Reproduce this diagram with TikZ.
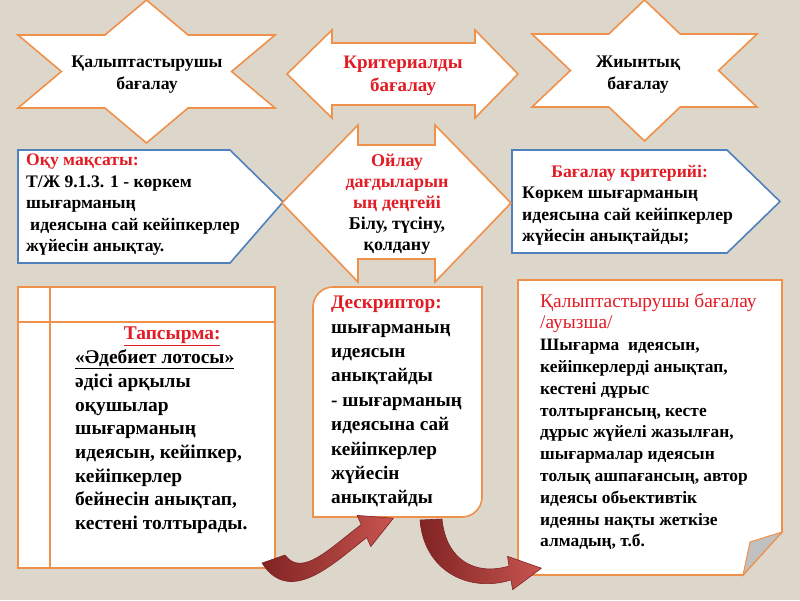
\documentclass[tikz,border=0pt]{standalone}
\usepackage{fontspec}
\setmainfont{Liberation Serif}
\usetikzlibrary{calc}
\definecolor{bgbeige}{RGB}{221,214,203}
\definecolor{boxorange}{RGB}{240,145,75}
\definecolor{boxblue}{RGB}{79,129,189}
\definecolor{txtred}{RGB}{226,28,36}
\definecolor{arrdark}{RGB}{128,36,36}
\definecolor{arrlight}{RGB}{200,84,78}
\definecolor{foldgrey}{RGB}{192,192,192}

\begin{document}
\begin{tikzpicture}[x=1pt, y=-1pt,
	orangebox/.style={fill=white, draw=boxorange, line width=1.6pt, line join=miter},
	bluebox/.style={fill=white, draw=boxblue, line width=1.6pt, line join=miter},
	orangeline/.style={draw=boxorange, line width=1.6pt},
	curvearrow/.style={left color=arrdark, right color=arrlight, draw=arrdark, line width=0.6pt, line join=round},
	txt/.style={inner sep=0pt, align=left, anchor=north west}]
	\fill[bgbeige] (0,0) rectangle (800,600);
	\useasboundingbox (0,0) rectangle (800,600);
	% stars
	\draw[orangebox] (146.5,0) -- (188.1,35) -- (275,35) -- (231.6,71.5) -- (275,108) -- (188.1,108) -- (146.5,143) -- (104.9,108) -- (18,108) -- (61.4,71.5) -- (18,35) -- (104.9,35) -- cycle;
	\node[txt, anchor=north, align=center, font=\bfseries\fontsize{17.7}{22}\selectfont] (formstar) at (147,56) {Қалыптастырушы\\бағалау};
	\draw[orangebox] (644.5,0) -- (680.2,34) -- (757,34) -- (718.6,70.5) -- (757,107) -- (680.2,107) -- (644.5,141) -- (608.8,107) -- (532,107) -- (570.4,70.5) -- (532,34) -- (608.8,34) -- cycle;
	\node[txt, anchor=north, align=center, font=\bfseries\fontsize{17.7}{22}\selectfont] (sumstar) at (638,56) {Жиынтық\\бағалау};
	% double arrow
	\draw[orangebox] (287,74) -- (332,30) -- (332,43) -- (475,43) -- (475,30) -- (518,74) -- (475,118) -- (475,105) -- (332,105) -- (332,118) -- cycle;
	\node[txt, anchor=north, align=center, text=txtred, font=\bfseries\fontsize{19}{23}\selectfont] (crit) at (403,56) {Критериалды\\бағалау};
	% side pentagons
	\draw[bluebox] (18,150) -- (230,150) -- (283,202) -- (230,263) -- (18,263) -- cycle;
	\node[txt, font=\bfseries\fontsize{17.6}{21.5}\selectfont] (goal) at (26,154) {\textcolor{txtred}{Оқу мақсаты:}\\Т/Ж 9.1.3. 1 - көркем\\шығарманың\\\hspace{4pt}идеясына сай кейіпкерлер\\жүйесін анықтау.};
	\draw[bluebox] (512,150) -- (727,150) -- (780,201.5) -- (727,253) -- (512,253) -- cycle;
	\node[txt, font=\bfseries\fontsize{17.7}{21.5}\selectfont] (criteria) at (522,165) {\makebox[215pt]{\textcolor{txtred}{Бағалау критерийі:}}\\Көркем шығарманың\\идеясына сай кейіпкерлер\\жүйесін анықтайды;};
	% centre arrow
	\draw[orangebox] (282,203) -- (358,125) -- (358,145) -- (435,145) -- (435,125) -- (511,203) -- (435,282) -- (435,259) -- (358,259) -- (358,282) -- cycle;
	\node[txt, anchor=north, align=center, font=\bfseries\fontsize{18}{21}\selectfont] (level) at (397,154) {\textcolor{txtred}{Ойлау}\\\textcolor{txtred}{дағдыларын}\\\textcolor{txtred}{ың деңгейі}\\Білу, түсіну,\\қолдану};
	% bottom boxes
	\draw[orangebox] (18,287) rectangle (275,568);
	\draw[orangeline] (50,287) -- (50,568);
	\draw[orangeline] (18,322) -- (275,322);
	\node[txt, font=\bfseries\fontsize{19.4}{23.7}\selectfont] (task) at (75,327) {\makebox[194pt]{\textcolor{txtred}{\underline{Тапсырма:}}}\\\underline{«Әдебиет лотосы»}\\әдісі арқылы\\оқушылар\\шығарманың\\идеясын, кейіпкер,\\кейіпкерлер\\бейнесін анықтап,\\кестені толтырады.};
	\draw[orangebox] (313,517) -- (313,307) .. controls (313,296) and (322,287) .. (333,287) -- (482,287) -- (482,497) .. controls (482,508) and (473,517) .. (462,517) -- cycle;
	\node[txt, font=\bfseries\fontsize{19.2}{24.4}\selectfont] (descr) at (331,296) {\textcolor{txtred}{Дескриптор:}\\шығарманың\\идеясын\\анықтайды\\- шығарманың\\идеясына сай\\кейіпкерлер\\жүйесін\\анықтайды};
	\draw[orangebox] (518,280) -- (782,280) -- (782,532) -- (743,575) -- (518,575) -- cycle;
	\draw[orangebox, fill=foldgrey, line width=1pt] (782,532) -- (750,542) -- (743,575) -- cycle;
	\node[txt, font=\bfseries\fontsize{17.4}{21.8}\selectfont] (oral) at (540,293) {\textcolor{txtred}{\mdseries\fontsize{19.4}{21.8}\selectfont Қалыптастырушы бағалау}\\\textcolor{txtred}{\mdseries\fontsize{19.4}{21.8}\selectfont /ауызша/}\\Шығарма\ \ идеясын,\\кейіпкерлерді анықтап,\\кестені дұрыс\\толтырғансың, кесте\\дұрыс жүйелі жазылған,\\шығармалар идеясын\\толық ашпағансың, автор\\идеясы обьективтік\\идеяны нақты жеткізе\\алмадың, т.б.};
	% curved arrows
	\shade[curvearrow] (262,563) .. controls (290,607) and (335,562) .. (366.8,537.4) -- (370.8,546.6) -- (393.4,518.2) -- (357.2,515.4) -- (361.2,524.6) .. controls (330,548) and (302,578) .. (285,555) -- cycle;
	\shade[curvearrow] (420,520) .. controls (424,572) and (470,593) .. (511,579.9) -- (512.6,589.7) -- (541.4,568.2) -- (507.5,556.3) -- (509,566.1) .. controls (475,576) and (446,560) .. (442,519) -- cycle;
\end{tikzpicture}
\end{document}
